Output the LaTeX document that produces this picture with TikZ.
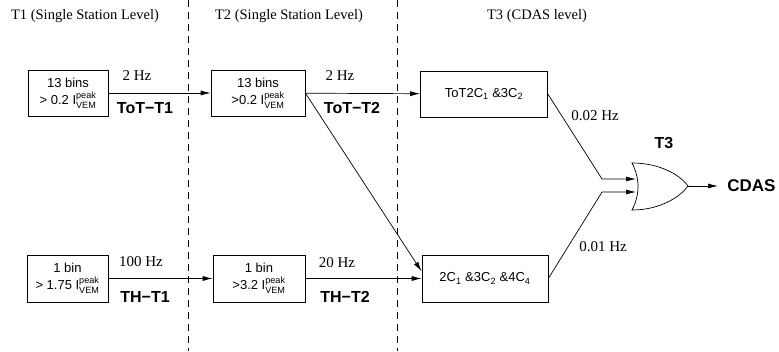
\documentclass[tikz,border=0pt]{standalone}
\usepackage{amsmath}
\usepackage{fontspec}
\setmainfont{Liberation Serif}
\setsansfont{Liberation Sans}
\usetikzlibrary{arrows.meta}
\newcommand{\Ivem}{I$^{\text{peak}}_{\text{VEM}}$}
\begin{document}
\begin{tikzpicture}[x=1pt,y=-1pt,line width=0.7pt,
    >={Latex[length=10pt,width=5pt]},
    box/.style={draw,font=\sffamily\fontsize{13}{17}\selectfont,align=center,inner sep=0pt},
    hz/.style={font=\fontsize{15}{17}\selectfont},
    lbl/.style={font=\sffamily\bfseries\fontsize{16}{18}\selectfont},
    hdr/.style={font=\fontsize{14.5}{17}\selectfont}]
    \useasboundingbox (0,0) rectangle (779,351);
    \draw[dashed,dash pattern=on 7pt off 5pt] (188,0) -- (188,351);
    \draw[dashed,dash pattern=on 7pt off 5pt] (397,0) -- (397,351);
    \node[hdr] (h1) at (85,16) {T1 (Single Station Level)};
    \node[hdr] (h2) at (289,16) {T2 (Single Station Level)};
    \node[hdr] (h3) at (537,16) {T3 (CDAS level)};

    \node[box,minimum width=80,minimum height=46] (tot1) at (68,93) {13 bins\\> 0.2 \Ivem};
    \node[box,minimum width=94,minimum height=46] (tot2) at (258,93) {13 bins\\>0.2 \Ivem};
    \node[box,minimum width=127,minimum height=46] (c12) at (484,94) {ToT2C\textsubscript{1} \&3C\textsubscript{2}};
    \node[box,minimum width=81,minimum height=47] (th1) at (67.5,278.5) {1 bin\\> 1.75 \Ivem};
    \node[box,minimum width=92,minimum height=47] (th2) at (259,278.5) {1 bin\\>3.2 \Ivem};
    \node[box,minimum width=126,minimum height=47] (c1234) at (485,278.5) {2C\textsubscript{1} \&3C\textsubscript{2} \&4C\textsubscript{4}};

    \node[hz] (f1) at (137,76) {2 Hz}; \node[lbl] (l1) at (145,108) {ToT−T1};
    \node[hz] (f2) at (340,76) {2 Hz}; \node[lbl] (l2) at (352,108) {ToT−T2};
    \node[hz] (f3) at (141,262) {100 Hz}; \node[lbl] (l3) at (145,297) {TH−T1};
    \node[hz] (f4) at (337,263) {20 Hz}; \node[lbl] (l4) at (345,297) {TH−T2};
    \node[hz] (f5) at (595,116) {0.02 Hz}; \node[hz] (f6) at (603,247) {0.01 Hz};
    \node[lbl] (t3) at (664,143) {T3};
    \node[lbl,font=\sffamily\bfseries\fontsize{17}{19}\selectfont,anchor=west,inner sep=0pt] (cdas) at (727,186) {CDAS};

    \draw (632,163) .. controls (660,163) and (680,175) .. (688,186)
        .. controls (680,197) and (660,210) .. (632,210)
        .. controls (640,195) and (640,178) .. cycle;
    \coordinate (in1) at (636,179); \coordinate (in2) at (636,192);
    \coordinate (out) at (688,186); \coordinate (k) at (602,0);

    \draw[->] (tot1) -- (tot2); \draw[->] (tot2) -- (c12);
    \draw[->] (th1) -- (th2); \draw[->] (th2) -- (c1234);
    \draw[->] (tot2.east) -- ([yshift=7pt]c1234.west);
    \draw[->] (c12.east) -- (k |- in1) -- (in1);
    \draw[->] (c1234.east) -- (k |- in2) -- (in2);
    \draw[->,shorten >=9pt] (out) -- (cdas);
\end{tikzpicture}
\end{document}
